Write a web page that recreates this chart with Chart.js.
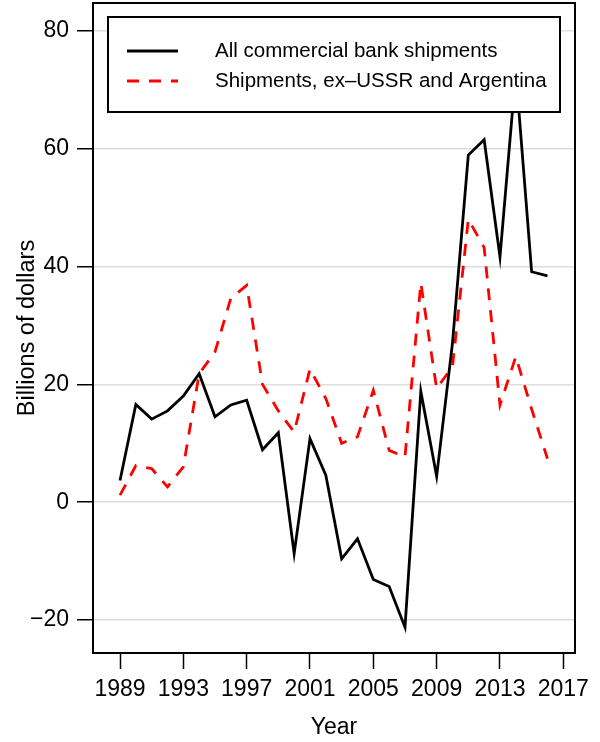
<!DOCTYPE html>
<html>
<head>
<meta charset="utf-8">
<script src="https://cdn.jsdelivr.net/npm/chart.js@4.4.1/dist/chart.umd.min.js"></script>
<style>
  html, body { margin: 0; padding: 0; background: #ffffff; }
  #c { display: block; }
</style>
</head>
<body>
<canvas id="c" width="600" height="742"></canvas>
<script>
// ---- data ----
const years = [1989, 1990, 1991, 1992, 1993, 1994, 1995, 1996, 1997, 1998, 1999, 2000, 2001, 2002,
               2003, 2004, 2005, 2006, 2007, 2008, 2009, 2010, 2011, 2012, 2013, 2014, 2015, 2016];
const allShipments = [3.7, 16.6, 14.1, 15.5, 18.0, 21.8, 14.5, 16.5, 17.3, 8.9, 11.8, -8.7, 10.8, 4.6,
                      -9.6, -6.2, -13.1, -14.3, -21.2, 18.8, 4.4, 27.0, 58.9, 61.5, 41.6, 73.0, 39.1, 38.4];
const exUssrArgentina = [1.2, 6.2, 5.7, 2.6, 6.0, 21.8, 25.5, 34.6, 36.8, 20.0, 15.5, 11.9, 22.6, 17.6,
                         10.0, 11.1, 19.0, 8.8, 7.7, 37.2, 19.3, 23.0, 48.0, 43.2, 16.5, 24.7, 15.8, 7.4];
const seriesNames = ["All commercial bank shipments", "Shipments, ex\u2013USSR and Argentina"];
const xTicks = [1989, 1993, 1997, 2001, 2005, 2009, 2013, 2017];
const yTicks = [-20, 0, 20, 40, 60, 80];
const xTitle = "Year";
const yTitle = "Billions of dollars";

const FONT = "'Liberation Sans', Arial, Helvetica, sans-serif";

const toPoints = (vals) => years.map((y, i) => ({ x: y, y: vals[i] }));

const framePlugin = {
  id: 'frame',
  afterDatasetsDraw(chart) {
    const ctx = chart.ctx;
    ctx.save();
    // legend box (drawn over the lines, like the reference)
    const bx = 108, by = 17, bw = 452, bh = 95;
    ctx.fillStyle = '#ffffff';
    ctx.fillRect(bx, by, bw, bh);
    ctx.lineWidth = 2;
    ctx.strokeStyle = '#000000';
    ctx.strokeRect(bx, by, bw, bh);
    const rows = [
      { y: by + 34, color: '#000000', dash: [] },
      { y: by + 64, color: '#ff0000', dash: [12, 10] }
    ];
    rows.forEach((r, i) => {
      ctx.beginPath();
      ctx.setLineDash(r.dash);
      ctx.lineWidth = 2.8;
      ctx.strokeStyle = r.color;
      ctx.moveTo(bx + 19, r.y);
      ctx.lineTo(bx + 70, r.y);
      ctx.stroke();
      ctx.setLineDash([]);
      ctx.fillStyle = '#000000';
      ctx.font = '20.5px ' + FONT;
      ctx.textBaseline = 'middle';
      ctx.textAlign = 'left';
      ctx.fillText(seriesNames[i], bx + 107, r.y);
    });
    ctx.restore();
  },
  afterDraw(chart) {
    const ctx = chart.ctx;
    const a = chart.chartArea;
    ctx.save();
    ctx.lineWidth = 2;
    ctx.strokeStyle = '#000000';
    ctx.strokeRect(a.left, a.top, a.right - a.left, a.bottom - a.top);
    ctx.restore();
  }
};

new Chart(document.getElementById('c'), {
  type: 'line',
  data: {
    datasets: [
      {
        label: seriesNames[0],
        data: toPoints(allShipments),
        borderColor: '#000000',
        borderWidth: 2.8,
        pointRadius: 0,
        tension: 0,
        fill: false
      },
      {
        label: seriesNames[1],
        data: toPoints(exUssrArgentina),
        borderColor: '#ff0000',
        borderWidth: 2.8,
        borderDash: [12, 10],
        pointRadius: 0,
        tension: 0,
        fill: false
      }
    ]
  },
  options: {
    responsive: false,
    animation: false,
    devicePixelRatio: 1,
    layout: { padding: { top: 3, right: 25, left: 0, bottom: 0 } },
    plugins: {
      legend: { display: false },
      tooltip: { enabled: false }
    },
    scales: {
      x: {
        type: 'linear',
        min: 1987.294,
        max: 2017.739,
        afterBuildTicks: (s) => { s.ticks = xTicks.map(v => ({ value: v })); },
        afterFit: (s) => { s.height = 89; s.paddingLeft = 0; s.paddingRight = 0; },
        ticks: {
          autoSkip: false,
          maxRotation: 0,
          padding: 7,
          color: '#000000',
          font: { family: FONT, size: 23 },
          callback: (v) => String(v)
        },
        grid: {
          drawOnChartArea: false,
          drawTicks: true,
          tickLength: 16,
          tickColor: '#000000',
          tickWidth: 1.5
        },
        border: { display: true, color: '#000000', width: 2 },
        title: {
          display: true,
          text: xTitle,
          color: '#000000',
          font: { family: FONT, size: 23 },
          padding: { top: 0, bottom: 1 }
        }
      },
      y: {
        type: 'linear',
        min: -25.58,
        max: 84.70,
        afterBuildTicks: (s) => { s.ticks = yTicks.map(v => ({ value: v })); },
        afterFit: (s) => { s.width = 93; s.paddingTop = 0; s.paddingBottom = 0; },
        ticks: {
          padding: 8,
          color: '#000000',
          font: { family: FONT, size: 23 },
          callback: (v) => (v < 0 ? '\u2212' + Math.abs(v) : String(v))
        },
        grid: {
          color: '#dddddd',
          lineWidth: 1.5,
          drawTicks: true,
          tickLength: 16,
          tickColor: '#000000',
          tickWidth: 1.5
        },
        border: { display: true, color: '#000000', width: 2 },
        title: {
          display: true,
          text: yTitle,
          color: '#000000',
          font: { family: FONT, size: 23.5 },
          padding: { top: 13, bottom: 0 }
        }
      }
    }
  },
  plugins: [framePlugin]
});
</script>
</body>
</html>
